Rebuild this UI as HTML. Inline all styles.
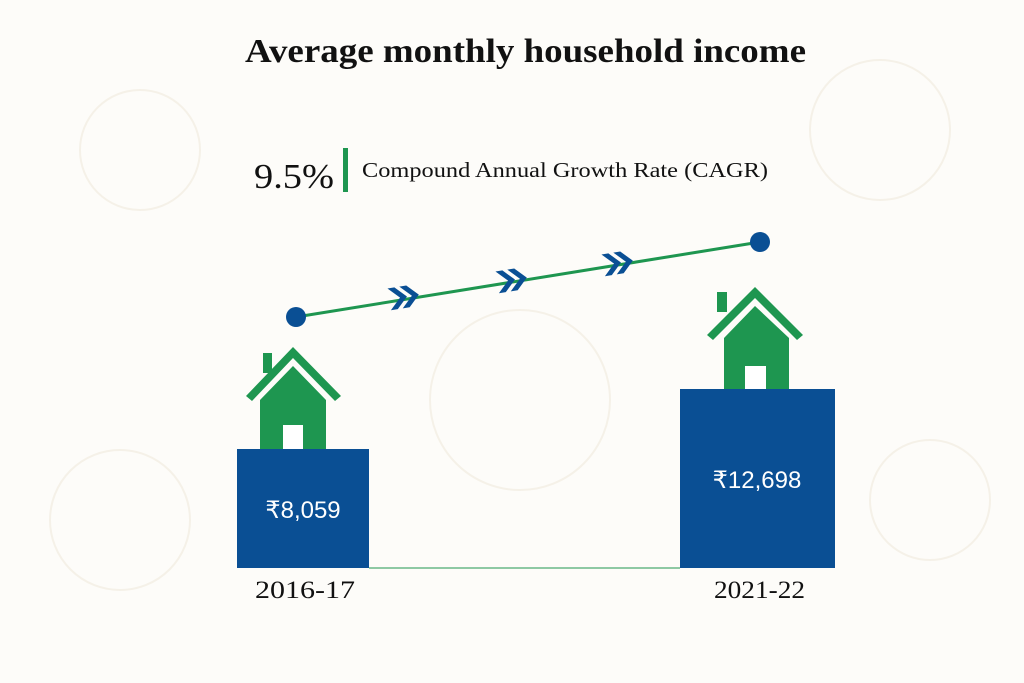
<!DOCTYPE html>
<html><head><meta charset="utf-8"><style>
html,body{margin:0;padding:0;background:#fff;}
svg{display:block}
</style></head><body>
<svg width="1024" height="683" viewBox="0 0 1024 683" xmlns="http://www.w3.org/2000/svg">
<rect width="1024" height="683" fill="#fdfcf9"/>
<g fill="none" stroke="#f5f1e8" stroke-width="2">
<circle cx="140" cy="150" r="60"/><circle cx="880" cy="130" r="70"/><circle cx="520" cy="400" r="90"/>
<circle cx="120" cy="520" r="70"/><circle cx="930" cy="500" r="60"/>
</g>
<text x="245" y="62" textLength="561" lengthAdjust="spacingAndGlyphs" font-family="Liberation Serif, serif" font-weight="bold" font-size="34" fill="#111">Average monthly household income</text>
<text x="254" y="188" textLength="80" lengthAdjust="spacingAndGlyphs" font-family="Liberation Serif, serif" font-size="35" fill="#111">9.5%</text>
<rect x="343" y="148" width="5" height="44" fill="#1e9650"/>
<text x="362" y="177" textLength="406" lengthAdjust="spacingAndGlyphs" font-family="Liberation Serif, serif" font-size="21" fill="#111">Compound Annual Growth Rate (CAGR)</text>
<line x1="296" y1="317" x2="760" y2="242" stroke="#1e9650" stroke-width="3"/>
<circle cx="296" cy="317" r="10" fill="#0a4f94"/>
<circle cx="760" cy="242" r="10" fill="#0a4f94"/>
<g fill="#0a4f94">
<g transform="translate(404,297) rotate(-9)"><path d="M-15,-11 h7 l11,11 l-11,11 h-7 l11,-11z"/><path d="M-3,-11 h7 l11,11 l-11,11 h-7 l11,-11z"/></g>
<g transform="translate(512,280) rotate(-9)"><path d="M-15,-11 h7 l11,11 l-11,11 h-7 l11,-11z"/><path d="M-3,-11 h7 l11,11 l-11,11 h-7 l11,-11z"/></g>
<g transform="translate(618,263) rotate(-9)"><path d="M-15,-11 h7 l11,11 l-11,11 h-7 l11,-11z"/><path d="M-3,-11 h7 l11,11 l-11,11 h-7 l11,-11z"/></g>
</g>
<line x1="369" y1="568" x2="680" y2="568" stroke="#1e9650" stroke-width="1"/>
<rect x="237" y="449" width="132" height="119" fill="#0a4f94"/>
<rect x="680" y="389" width="155" height="179" fill="#0a4f94"/>
<g fill="#1e9650">
<rect x="263" y="353" width="9" height="20"/>
<path d="M246,396 L293,347 L341,396 L335,401 L293,358 L252,401Z"/>
<path d="M260,400 L293,366 L326,400 V449 H260Z"/>
<rect x="717" y="292" width="10" height="20"/>
<path d="M707,335 L755,287 L803,335 L797,340 L755,298 L713,340Z"/>
<path d="M724,338 L755,306 L789,338 V389 H724Z"/>
</g>
<rect x="283" y="425" width="20" height="24" fill="#fff"/>
<rect x="745" y="366" width="21" height="23" fill="#fff"/>
<text x="303" y="518" text-anchor="middle" font-family="Liberation Sans, sans-serif" font-size="24" fill="#fff">₹8,059</text>
<text x="757" y="488" text-anchor="middle" font-family="Liberation Sans, sans-serif" font-size="24" fill="#fff">₹12,698</text>
<text x="255" y="598" textLength="100" lengthAdjust="spacingAndGlyphs" font-family="Liberation Serif, serif" font-size="25" fill="#111">2016-17</text>
<text x="714" y="598" textLength="91" lengthAdjust="spacingAndGlyphs" font-family="Liberation Serif, serif" font-size="25" fill="#111">2021-22</text>
</svg>
</body></html>
